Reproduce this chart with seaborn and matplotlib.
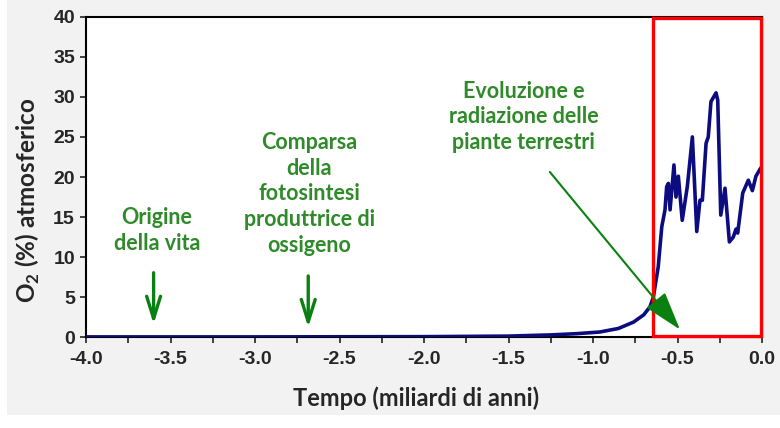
import numpy as np
import pandas as pd
import seaborn as sns
import matplotlib.pyplot as plt
from matplotlib.patches import Rectangle, FancyArrowPatch

# Atmospheric O2 (%) vs time (billions of years)
time = [-4.0, -3.0, -2.0, -1.5, -1.25, -1.1, -0.96, -0.85, -0.76, -0.70, -0.663,
        -0.643, -0.614, -0.593, -0.574, -0.564, -0.554, -0.544, -0.521, -0.509,
        -0.495, -0.472, -0.442, -0.412, -0.386, -0.367, -0.353, -0.331, -0.318,
        -0.302, -0.272, -0.262, -0.244, -0.219, -0.193, -0.170, -0.154, -0.144,
        -0.114, -0.081, -0.057, -0.036, -0.008, 0.0]
oxygen = [0.05, 0.05, 0.08, 0.15, 0.3, 0.45, 0.66, 1.1, 1.9, 2.8, 3.8,
          5.0, 8.8, 13.8, 15.9, 18.8, 19.2, 15.9, 21.5, 17.5,
          20.1, 14.6, 18.8, 25.0, 13.2, 17.1, 17.1, 24.2, 25.0,
          29.4, 30.5, 29.6, 15.25, 18.6, 11.9, 12.5, 13.5, 13.0,
          18.0, 19.6, 18.3, 20.1, 21.1, 21.3]

x_ticks = [-4.0, -3.5, -3.0, -2.5, -2.0, -1.5, -1.0, -0.5, 0.0]
y_ticks = [0, 5, 10, 15, 20, 25, 30, 35, 40]

df = pd.DataFrame({'Tempo': time, 'O2': oxygen})

sns.set_style('white')
plt.rcParams['font.family'] = ['Liberation Sans', 'DejaVu Sans']

fig = plt.figure(figsize=(7.8, 4.28), dpi=100)
fig.patch.set_facecolor('white')
fig.patches.append(Rectangle((7 / 780, 13 / 428), 773 / 780, 415 / 428,
                             transform=fig.transFigure, facecolor='#f2f2f2',
                             edgecolor='none', zorder=-10))
ax = fig.add_axes([86 / 780, 1 - 337.3 / 428, 676 / 780, 320.6 / 428])
ax.set_facecolor('white')

sns.lineplot(data=df, x='Tempo', y='O2', ax=ax, color='#0c0c80', linewidth=2.6,
             sort=False, zorder=3)

ax.set_xlim(-4.0, 0.0)
ax.set_ylim(0, 40)
ax.set_xticks(x_ticks)
ax.set_xticklabels([f'{t:.1f}' for t in x_ticks])
ax.set_xticks(np.arange(-4.0, 0.01, 0.25), minor=True)
ax.set_yticks(y_ticks)
ax.tick_params(axis='both', which='both', direction='out', length=4, width=1.2,
               color='#222222', labelsize=14)
ax.tick_params(axis='x', which='both', bottom=True, pad=6)
ax.tick_params(axis='y', left=True, pad=4)
for lab in ax.get_xticklabels() + ax.get_yticklabels():
    lab.set_fontweight('bold')
for s in ax.spines.values():
    s.set_color('black')
    s.set_linewidth(1.5)

lato = ['Lato', 'DejaVu Sans']
ax.set_xlabel('')
ax.set_ylabel('')
fig.text(416 / 780, 1 - 398 / 428, 'Tempo (miliardi di anni)', ha='center', va='center',
         fontsize=17, fontweight='bold', family=lato)
fig.text(28 / 780, 1 - 200 / 428, 'O$_\\mathregular{2}$ (%) atmosferico', ha='center',
         va='center', rotation=90, fontsize=17.5, fontweight='bold', family=lato)

# red box around the Phanerozoic
ax.add_patch(Rectangle((-0.643, 0.1), 0.638, 39.8, fill=False, edgecolor='#ff0000',
                       linewidth=2.4, zorder=4, clip_on=False))

green_txt = '#2f8a2a'
green_arr = '#0a8010'
txt_kw = dict(ha='center', va='center', color=green_txt, fontsize=15.5,
              fontweight='bold', linespacing=1.28, family=lato)
ax.text(-3.58, 13.35, 'Origine\ndella vita', **txt_kw)
ax.text(-2.68, 17.9, 'Comparsa\ndella\nfotosintesi\nproduttrice di\nossigeno', **txt_kw)
ax.text(-1.41, 27.5, 'Evoluzione e\nradiazione delle\npiante terrestri', **txt_kw)

for xa, y0, y1 in [(-3.60, 8.4, 1.3), (-2.685, 8.0, 0.9)]:
    ax.add_patch(FancyArrowPatch((xa, y0), (xa, y1),
                                 arrowstyle='->,head_length=0.16,head_width=0.05',
                                 mutation_scale=100, color=green_arr, linewidth=2.4,
                                 zorder=5))
ax.add_patch(FancyArrowPatch((-1.266, 20.9), (-0.475, 0.7),
                             arrowstyle='-|>,head_length=0.24,head_width=0.075',
                             mutation_scale=100, color=green_arr, linewidth=1.5, zorder=5))

fig.savefig('out.png', dpi=100)
